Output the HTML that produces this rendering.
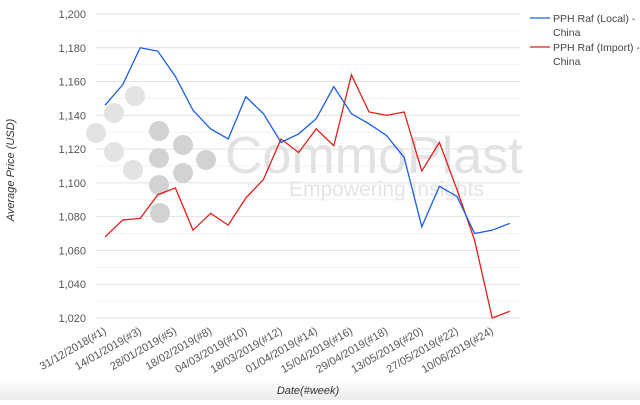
<!DOCTYPE html>
<html><head><style>
body{margin:0;width:640px;height:400px;overflow:hidden;background:#fff;font-family:"Liberation Sans",sans-serif}
</style></head><body>
<svg width="640" height="400" xmlns="http://www.w3.org/2000/svg" font-family="Liberation Sans, sans-serif">
<defs><linearGradient id="g" x1="0" y1="0" x2="0" y2="1"><stop offset="0" stop-color="#fff"/><stop offset="1" stop-color="#ececec"/></linearGradient></defs>
<rect x="0" y="378" width="640" height="22" fill="url(#g)"/>
<g id="grid"></g>
<g id="wm">
<g fill="#e3e3e3">
<circle cx="96" cy="133" r="10"/><circle cx="114" cy="113" r="10"/><circle cx="135" cy="96" r="10"/>
<circle cx="114" cy="152" r="10"/><circle cx="133" cy="170" r="10"/>
</g>
<g fill="#d2d2d2">
<circle cx="159" cy="131" r="10"/><circle cx="159" cy="158" r="10"/><circle cx="183" cy="145" r="10"/>
<circle cx="206" cy="160" r="10"/><circle cx="183" cy="173" r="10"/><circle cx="159" cy="185" r="10"/><circle cx="160" cy="213" r="10"/>
</g>
<text x="225" y="173" font-size="52" fill="#e2e2e2">CommoPlast</text>
<text x="289" y="196" font-size="21" fill="#e4e4e4">Empowering Insights</text>
</g>
<g id="lines"></g>
<g font-size="11" fill="#555" id="labels"></g>
<text x="14" y="170" font-size="11" font-style="italic" fill="#333" text-anchor="middle" transform="rotate(-90 14 170)">Average Price (USD)</text>
<text x="308" y="394" font-size="11" font-style="italic" fill="#333" text-anchor="middle">Date(#week)</text>
<g font-size="10.5" fill="#444">
<line x1="530" y1="18" x2="550" y2="18" stroke="#1a5ee0" stroke-width="1.3"/>
<text x="553" y="22">PPH Raf (Local) -</text><text x="553" y="36">China</text>
<line x1="530" y1="47" x2="550" y2="47" stroke="#e0201a" stroke-width="1.3"/>
<text x="553" y="51">PPH Raf (Import) -</text><text x="553" y="65">China</text>
</g>
</svg>
<script>
var ns="http://www.w3.org/2000/svg";
function Y(v){return 14+(1200-v)*304/180;}
var grid=document.getElementById('grid');
for(var v=1020;v<=1200;v+=10){var l=document.createElementNS(ns,'line');l.setAttribute('x1',96);l.setAttribute('x2',520);l.setAttribute('y1',Y(v));l.setAttribute('y2',Y(v));l.setAttribute('stroke',v%20==0?'#e2e2e2':'#f2f2f2');l.setAttribute('stroke-width',1);grid.appendChild(l);
if(v%20==0){var t=document.createElementNS(ns,'text');t.setAttribute('x',86);t.setAttribute('y',Y(v)+4);t.setAttribute('text-anchor','end');t.setAttribute('font-size','11');t.setAttribute('fill','#555');t.textContent=v.toLocaleString('en-US');grid.appendChild(t);}}
var blue=[1146,1158,1180,1178,1163,1143,1132,1126,1151,1141,1124,1129,1138,1157,1141,1135,1128,1115,1074,1098,1092,1070,1072,1076];
var red=[1068,1078,1079,1093,1097,1072,1082,1075,1091,1102,1126,1118,1132,1122,1164,1142,1140,1142,1107,1124,1096,1066,1020,1024];
function X(i){return 105+i*17.6;}
function pl(d,c){var p=document.createElementNS(ns,'polyline');p.setAttribute('points',d.map(function(v,i){return X(i)+','+Y(v)}).join(' '));p.setAttribute('fill','none');p.setAttribute('stroke',c);p.setAttribute('stroke-width',1.3);document.getElementById('lines').appendChild(p);}
pl(red,'#e0201a');pl(blue,'#1a5ee0');
var labs=["31/12/2018(#1)","14/01/2019(#3)","28/01/2019(#5)","18/02/2019(#8)","04/03/2019(#10)","18/03/2019(#12)","01/04/2019(#14)","15/04/2019(#16)","29/04/2019(#18)","13/05/2019(#20)","27/05/2019(#22)","10/06/2019(#24)"];
var g=document.getElementById('labels');
labs.forEach(function(s,k){var x=X(k*2)+2,y=333;var t=document.createElementNS(ns,'text');t.setAttribute('x',x);t.setAttribute('y',y);t.setAttribute('text-anchor','end');t.setAttribute('transform','rotate(-30 '+x+' '+y+')');t.textContent=s;g.appendChild(t);});
</script>
</body></html>
